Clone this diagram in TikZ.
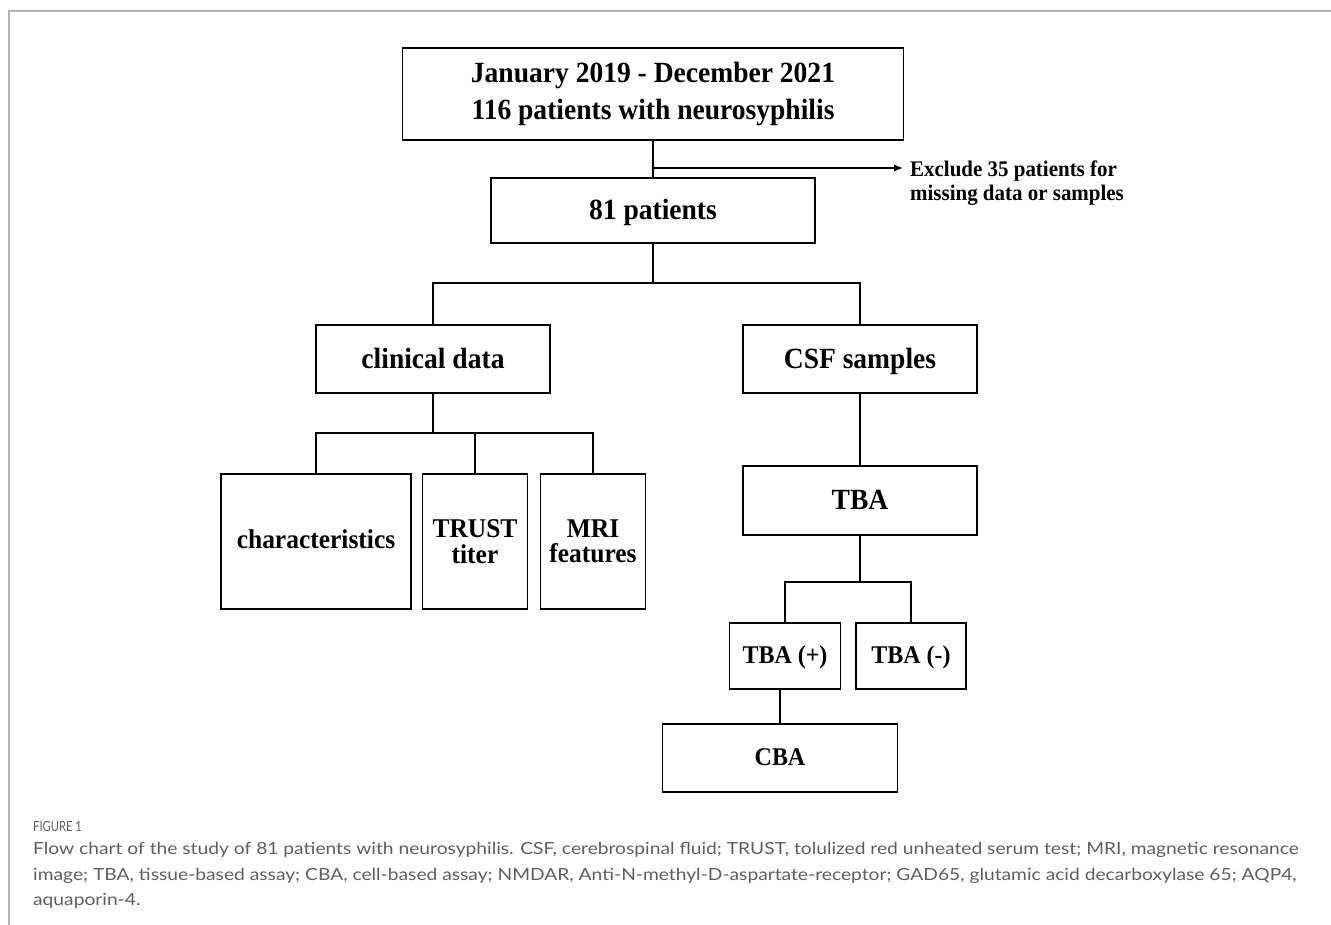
\documentclass[tikz,border=0pt]{standalone}
\usepackage{fontspec}
\setmainfont{Liberation Serif}[FakeStretch=0.94]
\newfontfamily\capfont{Lato}[FakeStretch=1.15]
\newfontfamily\figfont{Lato}[FakeStretch=0.8]
\usetikzlibrary{arrows.meta}
\definecolor{framegray}{HTML}{B4B4B4}
\definecolor{capgray}{HTML}{5E5E5E}
\tikzset{
  box/.style={draw=black, line width=1.7pt, inner sep=0pt, align=center,
    font=\bfseries\fontsize{29.3}{36.5}\selectfont},
  onebase/.style={text height=22pt, text depth=3.4pt},
  smallbox/.style={box, font=\bfseries\fontsize{27.1}{25.5}\selectfont},
  tbabox/.style={box, text height=19pt, text depth=5pt,
    font=\bfseries\fontsize{25.5}{29}\selectfont},
  conn/.style={draw=black, line width=1.7pt},
  captext/.style={anchor=west, inner sep=0pt, text=capgray, font=\capfont\fontsize{16.7}{20}\selectfont}
}
\begin{document}
\begin{tikzpicture}[x=1pt, y=-1pt]
\useasboundingbox (0,0) rectangle (1331,925);
% frame
\draw[framegray, line width=1.5pt] (9,925) -- (9,11) -- (1331,11);
% boxes
\node[box, minimum width=501pt, minimum height=92pt] (top) at (653,94)
  {January 2019 - December 2021\\116 patients with neurosyphilis};
\node[box, onebase, minimum width=324pt, minimum height=65pt] (p81) at (653,210.5) {81 patients};
\node[box, onebase, minimum width=234pt, minimum height=68pt] (clin) at (433,359) {clinical data};
\node[box, onebase, minimum width=234pt, minimum height=68pt] (csf) at (860,359) {CSF samples};
\node[smallbox, text height=19pt, text depth=6pt, minimum width=190pt, minimum height=135pt] (char) at (316,541.5) {characteristics};
\node[smallbox, minimum width=105pt, minimum height=135pt] (trust) at (475,541.5) {TRUST\\titer};
\node[smallbox, minimum width=105pt, minimum height=135pt] (mri) at (593,541.5) {MRI\\features};
\node[box, onebase, minimum width=234pt, minimum height=69pt] (tba) at (860,500.5) {TBA};
\node[tbabox, minimum width=111pt, minimum height=66pt] (tbap) at (785,656) {TBA (+)};
\node[tbabox, minimum width=110pt, minimum height=66pt] (tban) at (911,656) {TBA (-)};
\node[tbabox, minimum width=235pt, minimum height=68pt] (cba) at (780,758) {CBA};
\node[anchor=west, inner sep=0pt, align=left, font=\bfseries\fontsize{22.3}{23.5}\selectfont] (excl) at (910,183)
  {Exclude 35 patients for\\missing data or samples};
% junctions
\coordinate (a1) at (653,168);
\coordinate (a2) at (903,168);
\coordinate (j1) at (653,283);
\coordinate (j2) at (433,433);
\coordinate (j3) at (860,582);
% connectors
\draw[conn] (top.south) -- (p81.north);
\draw[conn, -{Latex[length=9pt,width=7.5pt]}] (a1) -- (a2);
\draw[conn] (p81.south) -- (j1);
\draw[conn] (clin.north) |- (j1) -| (csf.north);
\draw[conn] (clin.south) -- (j2);
\draw[conn] (char.north) |- (j2) -| (mri.north);
\draw[conn] (trust.north) -- (trust.north |- j2);
\draw[conn] (csf.south) -- (tba.north);
\draw[conn] (tba.south) -- (j3);
\draw[conn] (tbap.north) |- (j3) -| (tban.north);
\draw[conn] (cba.north) -- (cba.north |- tbap.south);
% caption
\node[captext, font=\figfont\fontsize{14}{16}\selectfont] (fig) at (33,826) {FIGURE 1};
\node[captext] (c1) at (33,850) {Flow chart of the study of 81 patients with neurosyphilis. CSF, cerebrospinal fluid; TRUST, tolulized red unheated serum test; MRI, magnetic resonance};
\node[captext] (c2) at (33,876) {image; TBA, tissue-based assay; CBA, cell-based assay; NMDAR, Anti-N-methyl-D-aspartate-receptor; GAD65, glutamic acid decarboxylase 65; AQP4,};
\node[captext] (c3) at (33,901) {aquaporin-4.};
\end{tikzpicture}
\end{document}
